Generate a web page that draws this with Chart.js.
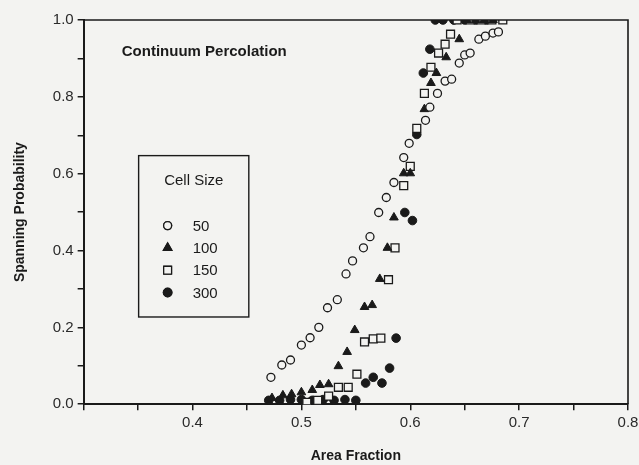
<!DOCTYPE html>
<html>
<head>
<meta charset="utf-8">
<script src="https://cdn.jsdelivr.net/npm/chart.js@4"></script>
<style>
  html, body { margin: 0; padding: 0; background: #f3f3f1; }
  #wrap { width: 639px; height: 465px; }
</style>
</head>
<body>
<div id="wrap"><canvas id="myChart" width="639" height="465"></canvas></div>
<script>
// values
var cellSizes = ["50", "100", "150", "300"];

var cs50X = [0.472,0.482,0.490,0.500,0.508,0.516,0.524,0.533,0.541,0.547,0.557,0.563,0.571,0.578,0.585,0.594,0.599,0.614,0.618,0.625,0.632,0.638,0.645,0.650,0.655,0.663,0.669,0.676,0.681];
var cs50Y = [0.070,0.102,0.115,0.154,0.173,0.200,0.251,0.272,0.339,0.373,0.407,0.436,0.499,0.538,0.577,0.642,0.679,0.739,0.773,0.809,0.841,0.846,0.888,0.909,0.914,0.950,0.958,0.966,0.969];

var cs100X = [0.473,0.483,0.491,0.500,0.510,0.517,0.525,0.534,0.542,0.549,0.558,0.565,0.572,0.579,0.585,0.594,0.600,0.613,0.619,0.624,0.633,0.645,0.652,0.660,0.668,0.676];
var cs100Y = [0.016,0.023,0.026,0.031,0.037,0.050,0.052,0.099,0.136,0.193,0.253,0.258,0.326,0.407,0.486,0.601,0.601,0.768,0.836,0.862,0.903,0.950,1.0,1.0,1.0,1.0];

var cs150X = [0.505,0.515,0.525,0.534,0.543,0.551,0.558,0.566,0.573,0.580,0.586,0.594,0.600,0.606,0.613,0.619,0.626,0.632,0.637,0.643,0.655,0.665,0.675,0.685];
var cs150Y = [0.005,0.010,0.021,0.044,0.044,0.078,0.162,0.170,0.172,0.324,0.407,0.569,0.619,0.718,0.809,0.877,0.914,0.937,0.963,1.0,1.0,1.0,1.0,1.0];

var cs300X = [0.470,0.480,0.490,0.500,0.510,0.520,0.530,0.540,0.550,0.559,0.566,0.574,0.581,0.587,0.595,0.602,0.606,0.612,0.618,0.623,0.630,0.640,0.650,0.660,0.670];
var cs300Y = [0.010,0.010,0.012,0.012,0.010,0.012,0.010,0.012,0.010,0.055,0.070,0.055,0.094,0.172,0.499,0.478,0.702,0.862,0.924,1.0,1.0,1.0,1.0,1.0,1.0];

var xTicks = ["0.4", "0.5", "0.6", "0.7", "0.8"];
var yTicks = ["0.0", "0.2", "0.4", "0.6", "0.8", "1.0"];

var ink = "#1a1a1a";
var paper = "#f3f3f1";
var fontFam = "'Liberation Sans', Arial, Helvetica, sans-serif";

function pts(xs, ys) {
  return xs.map(function (x, i) { return { x: x, y: ys[i] }; });
}

// background, frame, title and legend box drawn on the canvas
var decor = {
  id: "decor",
  beforeDraw: function (chart) {
    var c = chart.ctx;
    c.save();
    c.fillStyle = paper;
    c.fillRect(0, 0, chart.width, chart.height);
    c.restore();
  },
  afterDraw: function (chart) {
    var c = chart.ctx, a = chart.chartArea;
    var sx = chart.scales.x, sy = chart.scales.y;
    c.save();
    c.strokeStyle = ink;
    c.lineWidth = 1.6;
    c.beginPath();
    c.moveTo(a.left, a.top);
    c.lineTo(a.right, a.top);
    c.lineTo(a.right, a.bottom);
    c.stroke();

    c.fillStyle = ink;
    c.font = "bold 15px " + fontFam;
    c.textBaseline = "middle";
    c.fillText("Continuum Percolation", sx.getPixelForValue(0.335), sy.getPixelForValue(0.916));

    // legend box
    var l = sx.getPixelForValue(0.3505), r = sx.getPixelForValue(0.4517);
    var t = sy.getPixelForValue(0.647), b = sy.getPixelForValue(0.227);
    c.lineWidth = 1.4;
    c.strokeRect(l, t, r - l, b - t);
    c.font = "15px " + fontFam;
    c.textAlign = "center";
    c.fillText("Cell Size", (l + r) / 2, t + 25);
    c.textAlign = "left";
    chart.data.datasets.forEach(function (ds, i) {
      var yy = t + 70 + i * 22.3;
      var mx = l + 29;
      Chart.helpers.drawPoint(c, {
        pointStyle: ds.pointStyle,
        radius: ds.pointRadius,
        borderWidth: ds.borderWidth
      }, mx, yy);
      c.fillStyle = ds.backgroundColor;
      c.strokeStyle = ds.borderColor;
      c.lineWidth = ds.borderWidth;
      c.fill();
      c.stroke();
      c.fillStyle = ink;
      c.fillText(ds.label, l + 54, yy + 1);
    });
    c.restore();
  }
};

var ctx = document.getElementById("myChart").getContext("2d");

var myChart = new Chart(ctx, {
  type: "scatter",
  data: {
    datasets: [
      { label: cellSizes[0], data: pts(cs50X, cs50Y), pointStyle: "circle", pointRadius: 4, borderWidth: 1.3, borderColor: ink, backgroundColor: paper },
      { label: cellSizes[1], data: pts(cs100X, cs100Y), pointStyle: "triangle", pointRadius: 5, borderWidth: 1, borderColor: ink, backgroundColor: ink },
      { label: cellSizes[2], data: pts(cs150X, cs150Y), pointStyle: "rect", pointRadius: 5.6, borderWidth: 1.3, borderColor: ink, backgroundColor: paper },
      { label: cellSizes[3], data: pts(cs300X, cs300Y), pointStyle: "circle", pointRadius: 4.3, borderWidth: 1, borderColor: ink, backgroundColor: ink }
    ]
  },
  options: {
    responsive: false,
    animation: false,
    layout: { padding: { left: 12, top: 20, right: 0, bottom: 0 } },
    plugins: {
      legend: { display: false },
      tooltip: { enabled: false }
    },
    scales: {
      x: {
        type: "linear",
        min: 0.3,
        max: 0.8,
        afterFit: function (scale) { scale.paddingRight = 11; },
        ticks: {
          stepSize: 0.05,
          autoSkip: false,
          maxRotation: 0,
          color: "#2a2a2a",
          font: { size: 15, family: fontFam },
          padding: 4,
          callback: function (v, i) {
            if (i % 2 === 0 && i > 0) return xTicks[i / 2 - 1];
            return "";
          }
        },
        grid: { drawOnChartArea: false, drawTicks: true, tickLength: 6, color: ink, lineWidth: 1.5 },
        border: { color: ink, width: 2 },
        title: { display: true, text: "Area Fraction", color: ink, font: { size: 14, weight: "bold", family: fontFam }, padding: { top: 12, bottom: 0 } }
      },
      y: {
        type: "linear",
        min: 0,
        max: 1,
        ticks: {
          stepSize: 0.1,
          autoSkip: false,
          color: "#2a2a2a",
          font: { size: 15, family: fontFam },
          padding: 4,
          callback: function (v, i) {
            if (i % 2 === 0) return yTicks[i / 2];
            return "";
          }
        },
        grid: { drawOnChartArea: false, drawTicks: true, tickLength: 6, color: ink, lineWidth: 1.5 },
        border: { color: ink, width: 2 },
        title: { display: true, text: "Spanning Probability", color: ink, font: { size: 14, weight: "bold", family: fontFam }, padding: { top: 0, bottom: 20 } }
      }
    }
  },
  plugins: [decor]
});
</script>
</body>
</html>
